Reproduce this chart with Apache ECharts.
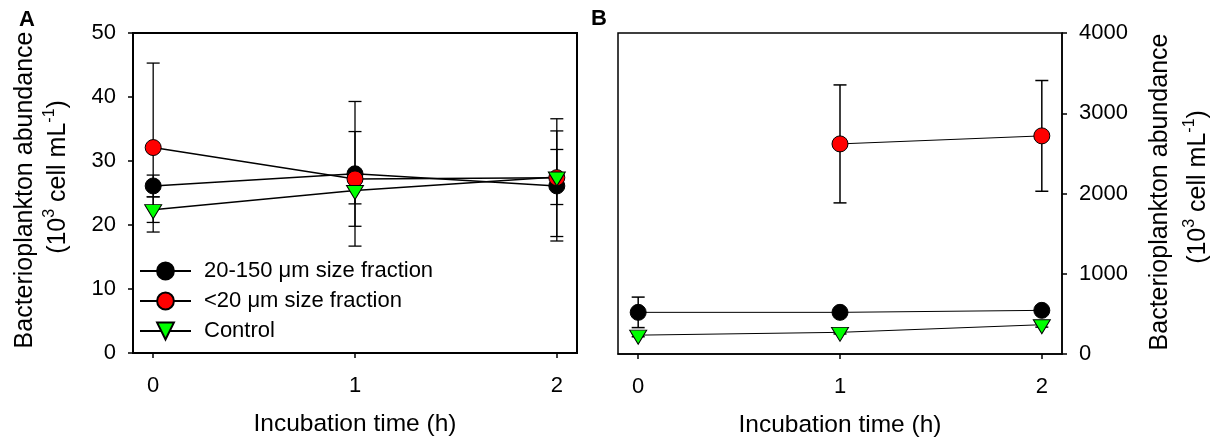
<!DOCTYPE html>
<html>
<head>
<meta charset="utf-8">
<script src="https://cdn.jsdelivr.net/npm/echarts@6/dist/echarts.min.js"></script>
<style>
  html, body { margin: 0; padding: 0; background: #fff; }
  #chart { width: 1218px; height: 443px; }
</style>
</head>
<body>
<div id="chart"></div>
<script>
// Incubation time points (h) and axis ticks
const timeH = [0, 1, 2];
const xTicks = [0, 1, 2];

// Panel A: means and errors (10^3 cells mL^-1)
const largeMeanA = [26.1, 28.0, 26.1];
const largeErrA  = [1.7, 11.3, 8.6];
const smallMeanA = [32.1, 27.2, 27.4];
const smallErrA  = [13.2, 7.4, 9.2];
const ctrlMeanA  = [22.4, 25.4, 27.5];
const ctrlErrA   = [2.0, 2.1, 4.3];

// Panel B: means and errors (10^3 cells mL^-1)
const largeMeanB = [519, 519, 544];
const largeErrB  = [190, 25, 40];
const smallMeanB = [null, 2618, 2718];
const smallErrB  = [null, 735, 690];
const ctrlMeanB  = [235, 270, 365];
const ctrlErrB   = [20, 20, 30];

const seriesNames = ['20-150 \u03bcm size fraction', '<20 \u03bcm size fraction', 'Control'];

const FONT = 'Liberation Sans, Arial, sans-serif';
const downTriangle = 'path://M0,0L20,0L10,17Z';

function pairs(means) {
  return timeH.map((t, i) => means[i] == null ? null : [t, means[i]]).filter(Boolean);
}

function lineSeries(name, gi, means, color, symbol, lw) {
  const isTri = symbol === downTriangle;
  return {
    type: 'line', name, xAxisIndex: gi, yAxisIndex: gi,
    data: pairs(means),
    symbol,
    symbolSize: isTri ? [17, 14] : 16,
    symbolOffset: isTri ? [0, 2] : [0, 0],
    showAllSymbol: true,
    itemStyle: { color, borderColor: '#000', borderWidth: 1 },
    lineStyle: { color: '#000', width: lw },
    z: 3
  };
}

function errorSeries(gi, means, errs, lw) {
  const data = timeH.map((t, i) => means[i] == null ? null : [t, means[i] - errs[i], means[i] + errs[i]]).filter(Boolean);
  return {
    type: 'custom', xAxisIndex: gi, yAxisIndex: gi, silent: true, z: 1,
    encode: { x: 0, y: [1, 2] },
    data,
    renderItem(params, api) {
      const x = api.value(0);
      const lo = api.coord([x, api.value(1)]);
      const hi = api.coord([x, api.value(2)]);
      const hw = 6.5;
      const st = { stroke: '#000', lineWidth: lw };
      return {
        type: 'group',
        children: [
          { type: 'line', shape: { x1: lo[0], y1: lo[1], x2: hi[0], y2: hi[1] }, style: st },
          { type: 'line', shape: { x1: lo[0] - hw, y1: lo[1], x2: lo[0] + hw, y2: lo[1] }, style: st },
          { type: 'line', shape: { x1: hi[0] - hw, y1: hi[1], x2: hi[0] + hw, y2: hi[1] }, style: st }
        ]
      };
    }
  };
}

function xAxis(gi, frameW) {
  return {
    type: 'value', gridIndex: gi, min: -0.1, max: 2.1,
    axisLine: { onZero: false, lineStyle: { color: '#000', width: frameW } },
    axisTick: { customValues: xTicks, length: 5, lineStyle: { color: '#000', width: 1.5 } },
    axisLabel: { customValues: xTicks, margin: 22, fontSize: 22, color: '#000', fontFamily: FONT },
    splitLine: { show: false },
    name: 'Incubation time (h)', nameLocation: 'middle', nameGap: 59,
    nameTextStyle: { fontSize: 24.5, color: '#000', fontFamily: FONT }
  };
}

function yAxis(gi, max, step, pos, frameW) {
  return {
    type: 'value', gridIndex: gi, min: 0, max, interval: step, position: pos,
    axisLine: { show: true, onZero: false, lineStyle: { color: '#000', width: frameW } },
    axisTick: { show: true, length: 5, lineStyle: { color: '#000', width: 1.5 } },
    axisLabel: { margin: 17, fontSize: 22, color: '#000', fontFamily: FONT, formatter: v => String(v) },
    splitLine: { show: false }
  };
}

const titleRich = {
  n: { fontSize: 25, fontFamily: FONT, color: '#000', lineHeight: 32 },
  sup: { fontSize: 16, fontFamily: FONT, color: '#000', verticalAlign: 'top', lineHeight: 32 }
};

function yTitle(x1, y1, x2, y2) {
  return [
    { type: 'text', x: x1, y: y1, rotation: Math.PI / 2,
      style: { text: 'Bacterioplankton abundance', font: '25px ' + FONT, fill: '#000', align: 'center', verticalAlign: 'middle' } },
    { type: 'text', x: x2, y: y2, rotation: Math.PI / 2,
      style: { text: '{n|(10}{sup|3}{n| cell mL}{sup|-1}{n|)}', rich: titleRich, align: 'center', verticalAlign: 'middle' } }
  ];
}

const option = {
  animation: false,
  backgroundColor: '#fff',
  grid: [
    { left: 133, top: 33, width: 444, height: 320, show: true, borderColor: '#000', borderWidth: 2, backgroundColor: 'transparent' },
    { left: 618, top: 33, width: 444, height: 321, show: true, borderColor: '#000', borderWidth: 1.5, backgroundColor: 'transparent' }
  ],
  xAxis: [xAxis(0, 2), xAxis(1, 1.5)],
  yAxis: [yAxis(0, 50, 10, 'left', 2), yAxis(1, 4000, 1000, 'right', 1.5)],
  legend: {
    data: seriesNames,
    orient: 'vertical',
    left: 139, top: 260, padding: 0,
    itemWidth: 51, itemHeight: 21, itemGap: 8,
    textStyle: { fontSize: 22, color: '#000', fontFamily: FONT, padding: [0, 0, 0, 8] },
    selectedMode: false
  },
  graphic: [
    { type: 'text', x: 27, y: 20, style: { text: 'A', font: 'bold 22px ' + FONT, fill: '#000', align: 'center', verticalAlign: 'middle' } },
    { type: 'text', x: 599, y: 19, style: { text: 'B', font: 'bold 22px ' + FONT, fill: '#000', align: 'center', verticalAlign: 'middle' } },
    ...yTitle(25, 190, 58, 177),
    ...yTitle(1160, 192, 1198, 187)
  ],
  series: [
    lineSeries(seriesNames[0], 0, largeMeanA, '#000000', 'circle', 1.5),
    lineSeries(seriesNames[1], 0, smallMeanA, '#ff0000', 'circle', 1.5),
    lineSeries(seriesNames[2], 0, ctrlMeanA, '#00ff00', downTriangle, 1.5),
    lineSeries(seriesNames[0], 1, largeMeanB, '#000000', 'circle', 1),
    lineSeries(seriesNames[1], 1, smallMeanB, '#ff0000', 'circle', 1),
    lineSeries(seriesNames[2], 1, ctrlMeanB, '#00ff00', downTriangle, 1),
    errorSeries(0, largeMeanA, largeErrA, 1.3),
    errorSeries(0, smallMeanA, smallErrA, 1.3),
    errorSeries(0, ctrlMeanA, ctrlErrA, 1.3),
    errorSeries(1, largeMeanB, largeErrB, 1.5),
    errorSeries(1, smallMeanB, smallErrB, 1.5),
    errorSeries(1, ctrlMeanB, ctrlErrB, 1.5)
  ]
};

const chart = echarts.init(document.getElementById('chart'), null, { renderer: 'canvas' });
chart.setOption(option);
</script>
</body>
</html>
